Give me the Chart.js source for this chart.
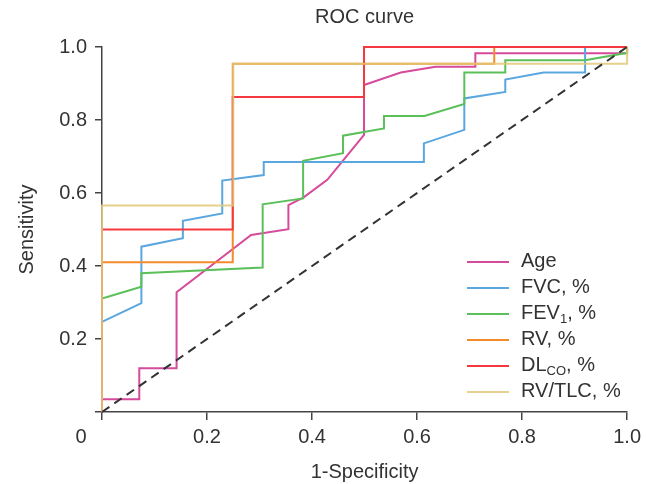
<!DOCTYPE html>
<html>
<head>
<meta charset="utf-8">
<script src="https://cdn.jsdelivr.net/npm/chart.js@4"></script>
<style>
  body { margin: 0; background: #fff; }
  #wrap { position: relative; width: 646px; height: 484px; }
  #legend {
    position: absolute; left: 467px; top: 247px;
    font-family: 'Liberation Sans', Arial, sans-serif; font-size: 20px; color: #333;
  }
  #legend .row { height: 26px; line-height: 26px; white-space: nowrap; }
  #legend .swatch { display: inline-block; width: 42px; height: 2px; vertical-align: middle; margin-right: 12px; }
  #legend sub { font-size: 13px; vertical-align: -4px; line-height: 0; }
</style>
</head>
<body>
<div id="wrap">
  <canvas id="roc" width="646" height="484"></canvas>
  <div id="legend"></div>
</div>
<script>
// ROC curves - points are [1-specificity, sensitivity]

const seriesLabels = ['Age', 'FVC, %', 'FEV<sub>1</sub>, %', 'RV, %', 'DL<sub>CO</sub>, %', 'RV/TLC, %'];
const seriesColors = ['#d64a9b', '#5aa7e0', '#5cc05a', '#f58a2c', '#f5383f', 'rgba(224,200,120,0.85)'];

const ageX = [0, 0, 0.071, 0.071, 0.142, 0.142, 0.284, 0.355, 0.355, 0.384, 0.429, 0.499, 0.499, 0.569, 0.635, 0.711, 0.711, 1, 1];
const ageY = [0, 0.035, 0.035, 0.12, 0.12, 0.328, 0.485, 0.501, 0.567, 0.588, 0.636, 0.759, 0.896, 0.930, 0.946, 0.946, 0.983, 0.983, 1];

const fvcX = [0, 0, 0.075, 0.075, 0.154, 0.154, 0.229, 0.229, 0.308, 0.308, 0.613, 0.613, 0.690, 0.690, 0.768, 0.768, 0.841, 0.920, 0.920, 1];
const fvcY = [0, 0.247, 0.298, 0.453, 0.476, 0.524, 0.544, 0.634, 0.649, 0.685, 0.685, 0.736, 0.773, 0.859, 0.877, 0.911, 0.930, 0.930, 1, 1];

const fevX = [0, 0, 0.075, 0.075, 0.306, 0.306, 0.383, 0.383, 0.459, 0.459, 0.537, 0.537, 0.614, 0.690, 0.690, 0.768, 0.768, 0.920, 1, 1];
const fevY = [0, 0.311, 0.343, 0.380, 0.396, 0.569, 0.585, 0.688, 0.709, 0.757, 0.777, 0.811, 0.811, 0.844, 0.930, 0.930, 0.964, 0.964, 0.984, 1];

const rvX = [0, 0, 0.249, 0.249, 0.747, 0.747, 1];
const rvY = [0, 0.41, 0.41, 0.954, 0.954, 1, 1];

const dlcoX = [0, 0, 0.249, 0.249, 0.499, 0.499, 1];
const dlcoY = [0, 0.5, 0.5, 0.863, 0.863, 1, 1];

const rvtlcX = [0, 0, 0.250, 0.250, 1, 1];
const rvtlcY = [0, 0.566, 0.566, 0.954, 0.954, 1];

const refX = [0, 1];
const refY = [0, 1];

const tickValues = [0, 0.2, 0.4, 0.6, 0.8, 1.0];

function toPoints(xs, ys) {
  return xs.map((x, i) => ({x: x, y: ys[i]}));
}

const curves = [
  [ageX, ageY], [fvcX, fvcY], [fevX, fevY], [rvX, rvY], [dlcoX, dlcoY], [rvtlcX, rvtlcY]
];

// later series are painted over earlier ones, like in the original
const datasets = curves.map((c, i) => ({
  label: seriesLabels[i].replace(/<[^>]+>/g, ''),
  data: toPoints(c[0], c[1]),
  borderColor: seriesColors[i],
  borderWidth: 2,
  showLine: true,
  pointRadius: 0,
  tension: 0,
  clip: false,
  order: curves.length - i
}));

datasets.push({
  label: 'Reference',
  data: toPoints(refX, refY),
  borderColor: '#333',
  borderWidth: 2,
  borderDash: [9, 6],
  showLine: true,
  pointRadius: 0,
  clip: false,
  order: 0
});

const FONT = "'Liberation Sans', Arial, sans-serif";

// the shared "0" sits left of the origin, under the x axis
const cornerZero = {
  id: 'cornerZero',
  afterDraw(chart) {
    const ctx = chart.ctx;
    const xs = chart.scales.x;
    ctx.save();
    ctx.font = '20px ' + FONT;
    ctx.fillStyle = '#333';
    ctx.textAlign = 'center';
    ctx.textBaseline = 'middle';
    ctx.fillText('0', xs.left - 21, xs.top + 25);
    ctx.restore();
  }
};

Chart.defaults.font.family = FONT;
Chart.defaults.color = '#333';

new Chart(document.getElementById('roc'), {
  type: 'scatter',
  data: { datasets: datasets },
  options: {
    responsive: false,
    animation: false,
    layout: { padding: { left: 0, right: 17, top: 0, bottom: 0 } },
    plugins: {
      legend: { display: false },
      tooltip: { enabled: false },
      title: {
        display: true,
        text: 'ROC curve',
        fullSize: false,
        color: '#333',
        font: { size: 20, weight: 'normal' },
        padding: { top: 5, bottom: 18 }
      }
    },
    scales: {
      x: {
        type: 'linear',
        min: 0, max: 1,
        afterBuildTicks: s => { s.ticks = tickValues.map(v => ({value: v})); },
        afterFit: s => { s.height = 72; },
        border: { display: true, color: '#444', width: 1.5 },
        grid: { display: true, drawOnChartArea: false, drawTicks: true, tickLength: 8, color: '#444', lineWidth: 1.5 },
        ticks: {
          padding: 5,
          maxRotation: 0,
          font: { size: 20 },
          callback: v => v === 0 ? '' : (v === 1 ? '1.0' : String(+v.toFixed(1)))
        },
        title: {
          display: true,
          text: '1-Specificity',
          font: { size: 20 },
          padding: { top: 0, bottom: 0 }
        }
      },
      y: {
        type: 'linear',
        min: 0, max: 1,
        afterBuildTicks: s => { s.ticks = tickValues.map(v => ({value: v})); },
        afterFit: s => { s.width = 102; },
        border: { display: true, color: '#444', width: 1.5 },
        grid: { display: true, drawOnChartArea: false, drawTicks: true, tickLength: 7, color: '#444', lineWidth: 1.5 },
        ticks: {
          padding: 8,
          font: { size: 20 },
          callback: v => v === 0 ? '' : v.toFixed(1)
        },
        title: {
          display: true,
          text: 'Sensitivity',
          font: { size: 20 },
          padding: { top: 15, bottom: 0 }
        }
      }
    }
  },
  plugins: [cornerZero]
});

// html legend so the subscripts stay real text
const legend = document.getElementById('legend');
seriesLabels.forEach((label, i) => {
  const row = document.createElement('div');
  row.className = 'row';
  row.innerHTML = `<span class="swatch" style="background:${seriesColors[i]}"></span>${label}`;
  legend.appendChild(row);
});
</script>
</body>
</html>
